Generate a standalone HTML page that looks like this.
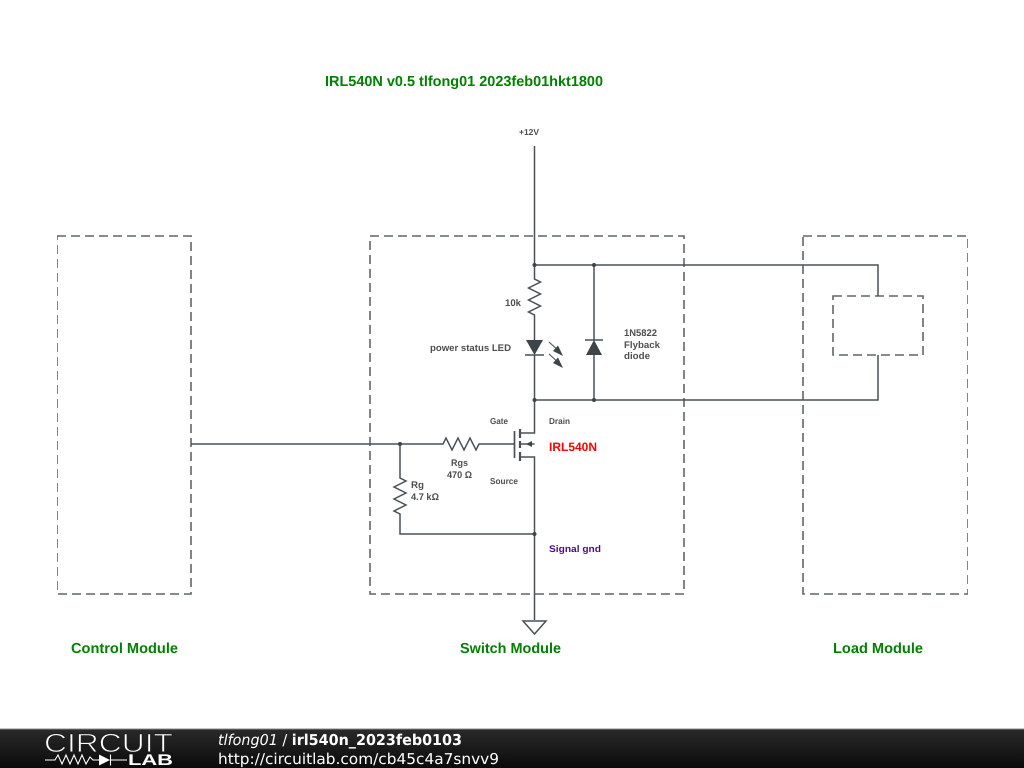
<!DOCTYPE html>
<html lang="en"><head><meta charset="utf-8"><title>IRL540N</title>
<style>html,body{margin:0;padding:0;background:#fff}svg{display:block}
text{font-family:"Liberation Sans",sans-serif;text-rendering:geometricPrecision}
.s{font-size:9.6px;font-weight:bold;fill:#505050}
.t{font-size:8.6px;font-weight:bold;fill:#505050}
.g{font-size:14.5px;font-weight:bold;fill:#008000}
.f{font-family:"DejaVu Sans",sans-serif;font-size:15px;fill:#fff}
</style></head><body>
<svg width="1024" height="768" viewBox="0 0 1024 768" xmlns="http://www.w3.org/2000/svg">
<defs>
<linearGradient id="b" x1="0" y1="0" x2="0" y2="1"><stop offset="0" stop-color="#2a2a2a"/><stop offset="1" stop-color="#0a0a0a"/></linearGradient>
<filter id="soft" x="0" y="0" width="100%" height="100%"><feGaussianBlur stdDeviation="0.3"/></filter>
</defs>
<rect width="1024" height="768" fill="#fff"/>
<g filter="url(#soft)">
<g fill="none" stroke="#5f656a" stroke-width="1.6" stroke-dasharray="9 5">
<rect x="57" y="236" width="134" height="358"/>
<rect x="370" y="236" width="314" height="358"/>
<rect x="803" y="236" width="165" height="358"/>
<rect x="833" y="296" width="90" height="59"/>
</g>
<g fill="none" stroke="#4a5156" stroke-width="1.5">
<path d="M534.5 146V279l6 3-12 6 12 6-12 6 12 6-12 6 6 3V340"/>
<path d="M534.5 355V433H520"/>
<path d="M534.5 265H878V296M594 265V340M594 355V400M534.500 400H878V355"/>
<path d="M191 444H443l3-6 6 12 6-12 6 12 6-12 6 12 3-6H514"/>
<path d="M400 444V478l6 3-12 6 12 6-12 6 12 6-12 6 6 3V534H534.500"/>
<path d="M520 444H534.500M520 457H534.500V620"/>
<path d="M523 621H546L534.500 634Z"/>
<path d="M514.500 431V458" stroke-width="1.7"/>
<path d="M520 429V438M520 441V448M520 452V461" stroke-width="2.2"/>
<path d="M525 355H544M585 340H603"/>
<path d="M549 342L560 352M549 354L560 364" stroke-width="1.1"/>
</g>
<g fill="#3c4449">
<path d="M526 340H543L534.500 355Z"/>
<path d="M586 355H602L594 340Z"/>
<path d="M563 356L553 351L558 345.500ZM563 368L553 363L558 357.500Z"/>
<path d="M526 444L532 441V447Z"/>
<circle cx="534.500" cy="265" r="2"/><circle cx="594" cy="265" r="2"/>
<circle cx="534.500" cy="400" r="2"/><circle cx="594" cy="400" r="2"/>
<circle cx="400" cy="444" r="2"/><circle cx="534.500" cy="534" r="2"/>
</g>
<text x="325" y="86" class="g" textLength="278" lengthAdjust="spacingAndGlyphs">IRL540N v0.5 tlfong01 2023feb01hkt1800</text>
<text x="519" y="135" class="t" textLength="20" lengthAdjust="spacingAndGlyphs">+12V</text>
<text x="505" y="306" class="s" textLength="16" lengthAdjust="spacingAndGlyphs">10k</text>
<text x="430" y="351" class="s" textLength="81" lengthAdjust="spacingAndGlyphs">power status LED</text>
<text x="624" y="336" class="s" textLength="33" lengthAdjust="spacingAndGlyphs">1N5822</text>
<text x="624" y="348" class="s" textLength="36" lengthAdjust="spacingAndGlyphs">Flyback</text>
<text x="624" y="359" class="s" textLength="26" lengthAdjust="spacingAndGlyphs">diode</text>
<text x="490" y="424" class="t" textLength="18" lengthAdjust="spacingAndGlyphs">Gate</text>
<text x="549" y="424" class="t" textLength="21" lengthAdjust="spacingAndGlyphs">Drain</text>
<text x="549" y="451" font-size="12.200" font-weight="bold" fill="#f00" textLength="48" lengthAdjust="spacingAndGlyphs">IRL540N</text>
<text x="451" y="466" class="s" textLength="17" lengthAdjust="spacingAndGlyphs">Rgs</text>
<text x="447" y="478" class="s" textLength="25" lengthAdjust="spacingAndGlyphs">470 Ω</text>
<text x="490" y="484" class="t" textLength="28" lengthAdjust="spacingAndGlyphs">Source</text>
<text x="411" y="488" class="s" textLength="13" lengthAdjust="spacingAndGlyphs">Rg</text>
<text x="411" y="500" class="s" textLength="28" lengthAdjust="spacingAndGlyphs">4.7 kΩ</text>
<text x="549" y="552" font-size="9.600" font-weight="bold" fill="#4b0d8c" textLength="52" lengthAdjust="spacingAndGlyphs">Signal gnd</text>
<text x="71" y="653" class="g" textLength="107" lengthAdjust="spacingAndGlyphs">Control Module</text>
<text x="460" y="653" class="g" textLength="101" lengthAdjust="spacingAndGlyphs">Switch Module</text>
<text x="833" y="653" class="g" textLength="90" lengthAdjust="spacingAndGlyphs">Load Module</text>
</g>
<rect y="729" width="1024" height="39" fill="url(#b)"/>
<rect y="728.500" width="1024" height="1" fill="#8a8a8a"/>
<text x="44" y="752" font-size="26.500" fill="#fff" stroke="#1f1f1f" stroke-width="0.9" textLength="129" lengthAdjust="spacingAndGlyphs">CIRCUIT</text>
<text x="128" y="765" font-size="15.500" font-weight="bold" fill="#fff" textLength="45" lengthAdjust="spacingAndGlyphs">LAB</text>
<path d="M45 760H55L58 755L62 764L66 755L70 764L74 755L78 764L82 755L86 764L90 757L93 760H99M110 760H127M110.500 754.500V765.500" fill="none" stroke="#fff" stroke-width="1.1"/>
<path d="M99 754.500L110 760L99 765.500Z" fill="#fff"/>
<text x="218" y="745" class="f" textLength="244" lengthAdjust="spacingAndGlyphs"><tspan font-style="italic">tlfong01</tspan> / <tspan font-weight="bold">irl540n_2023feb0103</tspan></text>
<text x="218" y="764" class="f" textLength="281" lengthAdjust="spacingAndGlyphs">http://circuitlab.com/cb45c4a7snvv9</text>
</svg>
</body></html>
